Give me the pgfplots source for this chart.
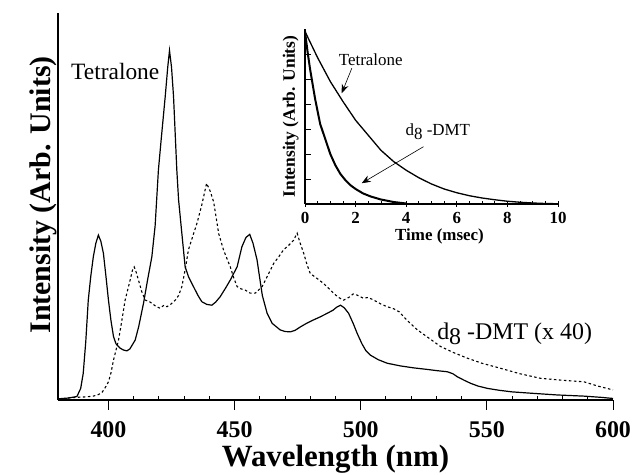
\documentclass[border=0pt]{standalone}
\usepackage{fontspec}
\setmainfont{Liberation Serif}
\usepackage{pgfplots}
\pgfplotsset{compat=1.18}
\usetikzlibrary{arrows.meta}

% emission spectra (wavelength nm, intensity)
\pgfplotstableread{
x y
380 0.3
384 0.5
387.5 0.9
389 3
390 6.9
391 15
392 25.8
393 32
394 37
395 40.5
396 42.6
397 41
398 37.9
399 32
400 25.8
401 20.5
402 16.4
403 14.5
404.6 13.4
406 12.9
407.3 12.7
408.5 13.2
410.6 15.5
412 19
413.9 25
415.5 31
417.2 37
418.5 45
419.8 59.4
421 68
422.5 78.4
423.5 86
424.2 90.3
425 86
425.8 78.4
427.1 59.4
427.8 51.7
429.1 43
430.4 34.4
431.7 31.9
433.7 29.3
435.5 27
437 25.4
439 24.7
441 24.5
442.5 25.3
444.3 26.7
446.5 29
448.3 31
451 34.4
452.9 39.6
454.5 42
456 42.8
457.3 40.5
458.9 36.2
459.8 32.2
461 27
462.9 22.4
464.9 19.8
468.1 18.1
470 17.7
472.1 17.6
474 18
476.1 18.9
478.5 19.8
481.3 20.7
484 21.5
486.7 22.4
489 23.2
490.5 24
492 24.5
493.5 23.8
495.2 22.4
497 19.8
498.6 17.2
500.5 14.5
502 12.8
503.8 11.6
507 10.4
510.5 9.5
515.8 8.8
521 8.3
526.4 7.9
530 7.6
534.3 7.3
536.5 6.8
538.3 6
541 5.1
543.6 4.3
546.5 3.6
550.2 3.0
555 2.5
560 2.1
568.7 1.7
578 1.3
588.5 1.0
595 0.7
600 0.4
}\tetralone

\pgfplotstableread{
x y
380 0.2
384 0.5
387.5 0.7
391 0.8
394 1.0
396 1.4
397.4 1.9
399 3.5
400 4.7
401 7
402 10.3
404 15.5
405.3 20.5
406.6 25.8
408.6 31
409.5 33.5
410.2 34.4
411 33
411.9 31
413.2 28
414.6 25.8
416 25.5
417.2 25
418.8 24.2
420.5 23.7
422 24.5
423.2 24.1
424.8 24.8
426.5 25.8
427.8 27
429.1 29.3
430.5 34
431.7 38.8
433.5 42.5
435.1 45.7
437 50.4
438.9 56
440.3 54
441.7 51.2
443.7 43
445.6 38.8
447 36.5
448.3 34.4
449.7 31.5
451 29.3
452.6 28.7
454.2 28.4
456.2 27.6
458.2 27.6
460.9 29.3
463 32
465.5 35.3
467.5 37
469.4 38.8
471.5 40
473.4 41.3
474.8 43.1
476 40.5
477.4 37.9
478.7 35
480 32.7
482.5 31.5
485.3 30.1
487.2 28.9
489.2 27.6
491.2 26.5
493.2 25.8
495.5 26.6
497 27.4
498.6 27.1
501 26.3
503 26.5
505.2 25.8
508 24.8
510.5 24.1
513 23.6
515.2 22.8
518.5 20.5
522.5 18.1
527 16
531.7 13.8
537 12.2
542.3 10.8
548 9.5
555.4 8.2
563 6.8
571.3 5.6
580 5.1
588.5 4.7
594 3.6
600 2.6
}\dmt

% decays (time msec, intensity)
\pgfplotstableread{
x y
0 6.9
0.5 5.85
1 4.9
1.5 4.1
2 3.35
2.5 2.75
3 2.15
3.5 1.7
4 1.35
4.5 1.05
5 0.8
5.5 0.6
6 0.45
6.5 0.33
7 0.24
7.5 0.17
8 0.11
8.5 0.07
9 0.04
9.5 0.02
10 0.01
}\tetdecay

\pgfplotstableread{
x y
0 6.9
0.1 6.1
0.2 5.4
0.3 4.8
0.4 4.2
0.5 3.7
0.6 3.2
0.8 2.6
1.0 2.0
1.2 1.55
1.4 1.2
1.6 0.95
1.8 0.75
2.0 0.6
2.3 0.42
2.6 0.3
3.0 0.18
3.5 0.08
4.0 0.02
}\dmtdecay

\begin{document}
\begin{tikzpicture}
\useasboundingbox (-58bp,-75bp) rectangle (576bp,400bp);
\begin{axis}[
  scale only axis, width=555bp, height=387bp,
  at={(0,0)}, anchor=south west,
  xmin=380, xmax=600, ymin=0, ymax=100,
  axis lines*=left,
  axis line style={line width=1.5bp},
  xtick={400,450,...,600},
  xticklabels={\textbf{400},\textbf{450},\textbf{500},\textbf{550},\textbf{600}},
  minor x tick num=4,
  xtick align=outside,
  major tick length=10bp, minor tick length=4bp,
  minor x tick style={yshift=4bp},
  tick style={line width=1bp, black},
  ytick=\empty,
  xticklabel style={font=\bfseries\fontsize{24}{24}\selectfont, yshift=-8bp},
  xlabel={Wavelength (nm)},
  xlabel style={font=\bfseries\fontsize{31}{31}\selectfont, yshift=-1bp},
  ylabel={Intensity (Arb. Units)},
  ylabel style={font=\bfseries\fontsize{30}{30}\selectfont, at={(axis description cs:0,0.53)}, yshift=-2bp},
  clip=false,
]
\addplot[line width=1.2bp, black] table {\tetralone};
\addplot[line width=1.1bp, black, dash pattern=on 2.5bp off 2.5bp] table {\dmt};
\node[font=\fontsize{23.5}{23.5}\selectfont] at (axis cs:402.7,84.8) {Tetralone};
\node[font=\fontsize{24}{24}\selectfont] at (axis cs:561,17) {d\raisebox{-0.45ex}{8} -DMT (x 40)};
\end{axis}

\begin{axis}[
  scale only axis, width=253bp, height=175bp,
  at={(247bp,196bp)}, anchor=south west,
  xmin=0, xmax=10, ymin=0, ymax=7,
  axis lines*=left,
  axis line style={line width=1.5bp},
  xtick={0,2,...,10},
  xticklabels={\textbf{0},\textbf{2},\textbf{4},\textbf{6},\textbf{8},\textbf{10}},
  minor x tick num=3,
  ytick={1,...,6},
  xtick align=center,
  ytick align=inside,
  major tick length=6bp, minor tick length=3bp,
  minor x tick style={yshift=1.5bp},
  tick style={line width=0.8bp, black},
  yticklabels={},
  xticklabel style={font=\bfseries\fontsize{17}{17}\selectfont, yshift=-2bp},
  xlabel={Time (msec)},
  xlabel style={font=\bfseries\fontsize{17}{17}\selectfont, yshift=2bp, xshift=8bp},
  ylabel={Intensity (Arb. Units)},
  ylabel style={font=\bfseries\fontsize{17.5}{17.5}\selectfont, yshift=-4bp},
  clip=false,
]
\addplot[line width=1.3bp, black] table {\tetdecay};
\addplot[line width=2bp, black] table {\dmtdecay};
\node[font=\fontsize{17}{17}\selectfont] at (axis cs:2.6,5.76) {Tetralone};
\node[font=\fontsize{17}{17}\selectfont] at (axis cs:5.25,2.9) {d\raisebox{-0.45ex}{8} -DMT};
\draw[-{Stealth[length=9bp,width=7bp]}, line width=0.6bp] (axis cs:1.85,5.43) -- (axis cs:1.45,4.43);
\draw[-{Stealth[length=9bp,width=7bp]}, line width=0.6bp] (axis cs:4.68,2.29) -- (axis cs:2.24,0.83);
\end{axis}
\end{tikzpicture}
\end{document}
